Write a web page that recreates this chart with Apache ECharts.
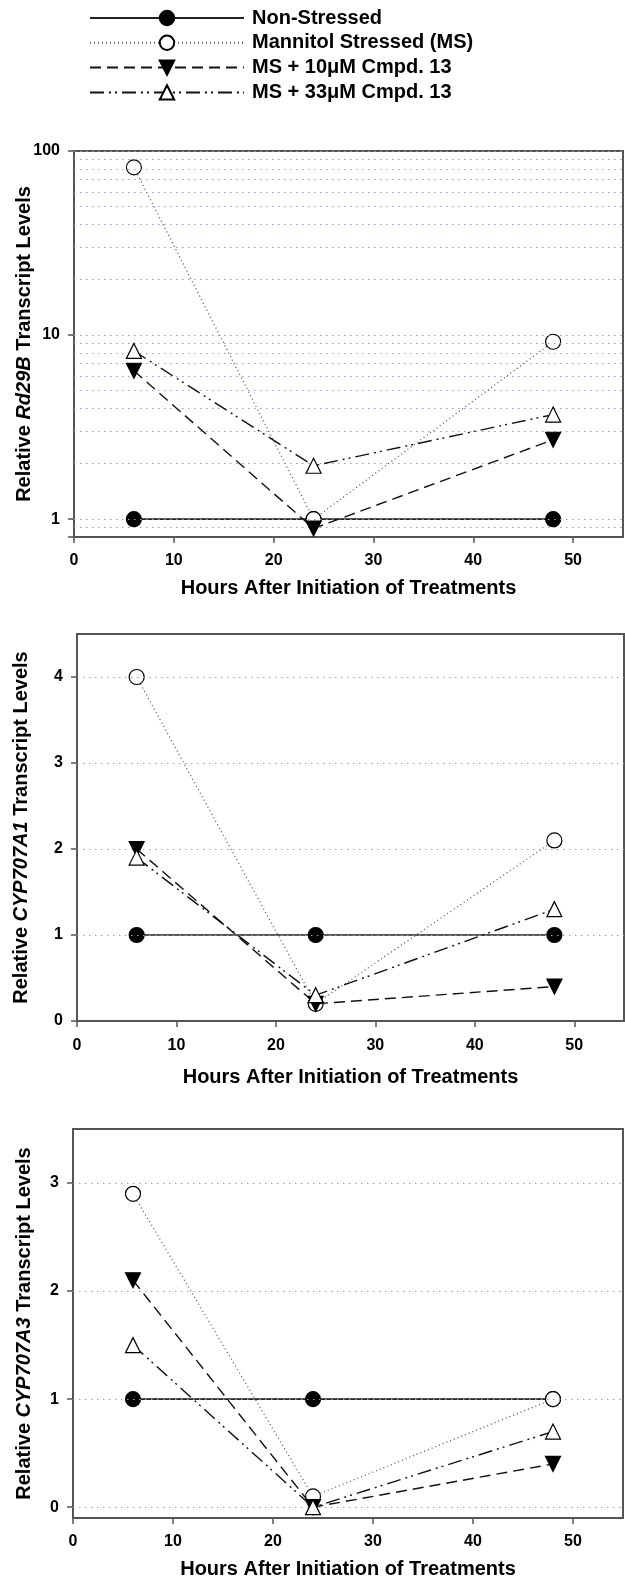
<!DOCTYPE html>
<html>
<head>
<meta charset="utf-8">
<script src="https://cdn.jsdelivr.net/npm/echarts@6/dist/echarts.min.js"></script>
<style>
html,body{margin:0;padding:0;background:#fff;}
#chart{width:625px;height:1585px;}
</style>
</head>
<body>
<div id="chart"></div>
<script>
// ---------- data ----------
const hours = [6, 24, 48];
const seriesNames = ['Non-Stressed', 'Mannitol Stressed (MS)', 'MS + 10\u03BCM Cmpd. 13', 'MS + 33\u03BCM Cmpd. 13'];

const rd29bNonStressed = [1, 1, 1];
const rd29bMannitol = [81.5, 1.0, 9.2];
const rd29b10uM = [6.4, 0.89, 2.7];
const rd29b33uM = [8.2, 1.95, 3.7];

const cyp707a1NonStressed = [1, 1, 1];
const cyp707a1Mannitol = [4.0, 0.2, 2.1];
const cyp707a110uM = [2.0, 0.2, 0.4];
const cyp707a133uM = [1.9, 0.3, 1.3];

const cyp707a3NonStressed = [1, 1, 1];
const cyp707a3Mannitol = [2.9, 0.1, 1.0];
const cyp707a310uM = [2.1, 0.0, 0.4];
const cyp707a333uM = [1.5, 0.0, 0.7];

const xTickValues = [0, 10, 20, 30, 40, 50];
const rd29bGridValues = [0.9, 1, 2, 3, 4, 5, 6, 7, 8, 9, 10, 20, 30, 40, 50, 60, 70, 80, 90, 100];
const cyp707a1TickValues = [0, 1, 2, 3, 4];
const cyp707a1GridValues = [1, 2, 3, 4];
const cyp707a3TickValues = [0, 1, 2, 3];
const cyp707a3GridValues = [0, 1, 2, 3];

const panels = [
  { gene: 'Rd29B', values: [rd29bNonStressed, rd29bMannitol, rd29b10uM, rd29b33uM], grid: rd29bGridValues },
  { gene: 'CYP707A1', values: [cyp707a1NonStressed, cyp707a1Mannitol, cyp707a110uM, cyp707a133uM], grid: cyp707a1GridValues },
  { gene: 'CYP707A3', values: [cyp707a3NonStressed, cyp707a3Mannitol, cyp707a310uM, cyp707a333uM], grid: cyp707a3GridValues }
];

// ---------- styles ----------
const FONT = '"Liberation Sans", Arial, sans-serif';
const AXIS_COLOR = '#555';
const GRID_DOT = { color: '#9a9ac4', width: 1.2, type: [1.5, 4.5] };
const TITLE_SIZE = 20;

const styles = [
  { symbol: 'circle', symbolRotate: 0, color: '#000', fill: '#000', line: { color: '#222', width: 1.6, type: 'solid' } },
  { symbol: 'circle', symbolRotate: 0, color: '#000', fill: '#fff', line: { color: '#555', width: 1.3, type: [1, 3] } },
  { symbol: 'triangle', symbolRotate: 180, color: '#000', fill: '#000', line: { color: '#111', width: 1.4, type: [11, 6] } },
  { symbol: 'triangle', symbolRotate: 0, color: '#000', fill: '#fff', line: { color: '#111', width: 1.4, type: [14, 5, 2, 4, 2, 5] } }
];

const grids = [
  { left: 74, top: 151, width: 549, height: 386 },
  { left: 77, top: 634, width: 547, height: 387 },
  { left: 73, top: 1129, width: 550, height: 389 }
];

const xGaps = [{ label: 16, name: 41 }, { label: 17, name: 46 }, { label: 16, name: 41 }];
const yNameGaps = [40, 46, 39];

function makeX(i) {
  return {
    gridIndex: i, type: 'value', min: 0, max: 55,
    axisLine: { show: true, onZero: false, lineStyle: { color: AXIS_COLOR, width: 2 } },
    axisTick: { show: true, length: 6, customValues: xTickValues, lineStyle: { color: AXIS_COLOR, width: 1.5 } },
    axisLabel: { customValues: xTickValues, fontSize: 16, fontWeight: 'bold', color: '#000', fontFamily: FONT, margin: xGaps[i].label },
    splitLine: { show: false },
    name: 'Hours After Initiation of Treatments', nameLocation: 'middle', nameGap: xGaps[i].name, nameMoveOverlap: false,
    nameTextStyle: { fontSize: TITLE_SIZE, fontWeight: 'bold', color: '#000', fontFamily: FONT }
  };
}

function yName(gene) {
  return '{n|Relative }{i|' + gene + '}{n| Transcript Levels}';
}
const yNameStyle = {
  fontSize: TITLE_SIZE, fontWeight: 'bold', color: '#000', fontFamily: FONT,
  rich: {
    n: { fontSize: TITLE_SIZE, fontWeight: 'bold', color: '#000', fontFamily: FONT },
    i: { fontSize: TITLE_SIZE, fontWeight: 'bold', fontStyle: 'italic', color: '#000', fontFamily: FONT }
  }
};

const yAxes = [
  {
    gridIndex: 0, type: 'log', logBase: 10, min: 0.8, max: 100,
    axisLine: { show: true, onZero: false, lineStyle: { color: AXIS_COLOR, width: 2 } },
    axisTick: { show: true, length: 6, lineStyle: { color: AXIS_COLOR, width: 1.5 } },
    axisLabel: {
      fontSize: 16, fontWeight: 'bold', color: '#000', fontFamily: FONT, margin: 14,
      formatter: function (v) {
        const l = Math.log10(v);
        return Math.abs(l - Math.round(l)) < 1e-6 ? String(Math.round(Math.pow(10, Math.round(l)))) : '';
      }
    },
    splitLine: { show: false }, minorTick: { show: false },
    name: yName(panels[0].gene), nameLocation: 'middle', nameGap: yNameGaps[0], nameRotate: 90, nameMoveOverlap: false, nameTextStyle: yNameStyle
  },
  {
    gridIndex: 1, type: 'value', min: 0, max: 4.5,
    axisLine: { show: true, onZero: false, lineStyle: { color: AXIS_COLOR, width: 2 } },
    axisTick: { show: true, length: 6, customValues: cyp707a1TickValues, lineStyle: { color: AXIS_COLOR, width: 1.5 } },
    axisLabel: { customValues: cyp707a1TickValues, fontSize: 16, fontWeight: 'bold', color: '#000', fontFamily: FONT, margin: 14 },
    splitLine: { show: false },
    name: yName(panels[1].gene), nameLocation: 'middle', nameGap: yNameGaps[1], nameRotate: 90, nameMoveOverlap: false, nameTextStyle: yNameStyle
  },
  {
    gridIndex: 2, type: 'value', min: -0.1, max: 3.5,
    axisLine: { show: true, onZero: false, lineStyle: { color: AXIS_COLOR, width: 2 } },
    axisTick: { show: true, length: 6, customValues: cyp707a3TickValues, lineStyle: { color: AXIS_COLOR, width: 1.5 } },
    axisLabel: { customValues: cyp707a3TickValues, fontSize: 16, fontWeight: 'bold', color: '#000', fontFamily: FONT, margin: 14 },
    splitLine: { show: false },
    name: yName(panels[2].gene), nameLocation: 'middle', nameGap: yNameGaps[2], nameRotate: 90, nameMoveOverlap: false, nameTextStyle: yNameStyle
  }
];

const series = [];
panels.forEach(function (p, pi) {
  // gridline carrier
  series.push({
    type: 'line', xAxisIndex: pi, yAxisIndex: pi, data: [], silent: true, z: 1,
    markLine: {
      silent: true, symbol: ['none', 'none'], label: { show: false }, animation: false,
      lineStyle: GRID_DOT,
      emphasis: { disabled: true },
      data: p.grid.map(function (v) { return { yAxis: v }; })
    }
  });
  p.values.forEach(function (vals, si) {
    const st = styles[si];
    series.push({
      name: seriesNames[si], type: 'line', xAxisIndex: pi, yAxisIndex: pi, z: 3 + si,
      data: hours.map(function (h, k) { return [h, vals[k]]; }),
      symbol: st.symbol, symbolSize: 15, symbolRotate: st.symbolRotate, showAllSymbol: true,
      lineStyle: st.line,
      itemStyle: { color: st.fill, borderColor: st.color, borderWidth: 1.2, opacity: 1 },
      emphasis: { disabled: true }
    });
  });
});

const option = {
  backgroundColor: '#fff',
  animation: false,
  legend: {
    orient: 'vertical', left: 89, top: 8, padding: 0, itemWidth: 154, itemHeight: 18, itemGap: 4.8,
    data: seriesNames, selectedMode: false,
    textStyle: { fontSize: TITLE_SIZE, lineHeight: 20, fontWeight: 'bold', color: '#000', fontFamily: FONT, padding: [0, 0, 0, 3] }
  },
  grid: grids.map(function (g) {
    return {
      left: g.left, top: g.top, width: g.width, height: g.height,
      outerBoundsMode: 'none', containLabel: false,
      show: true, borderColor: AXIS_COLOR, borderWidth: 2, backgroundColor: 'transparent'
    };
  }),
  xAxis: [makeX(0), makeX(1), makeX(2)],
  yAxis: yAxes,
  series: series
};

const chart = echarts.init(document.getElementById('chart'), null, { renderer: 'canvas' });
chart.setOption(option);
</script>
</body>
</html>
